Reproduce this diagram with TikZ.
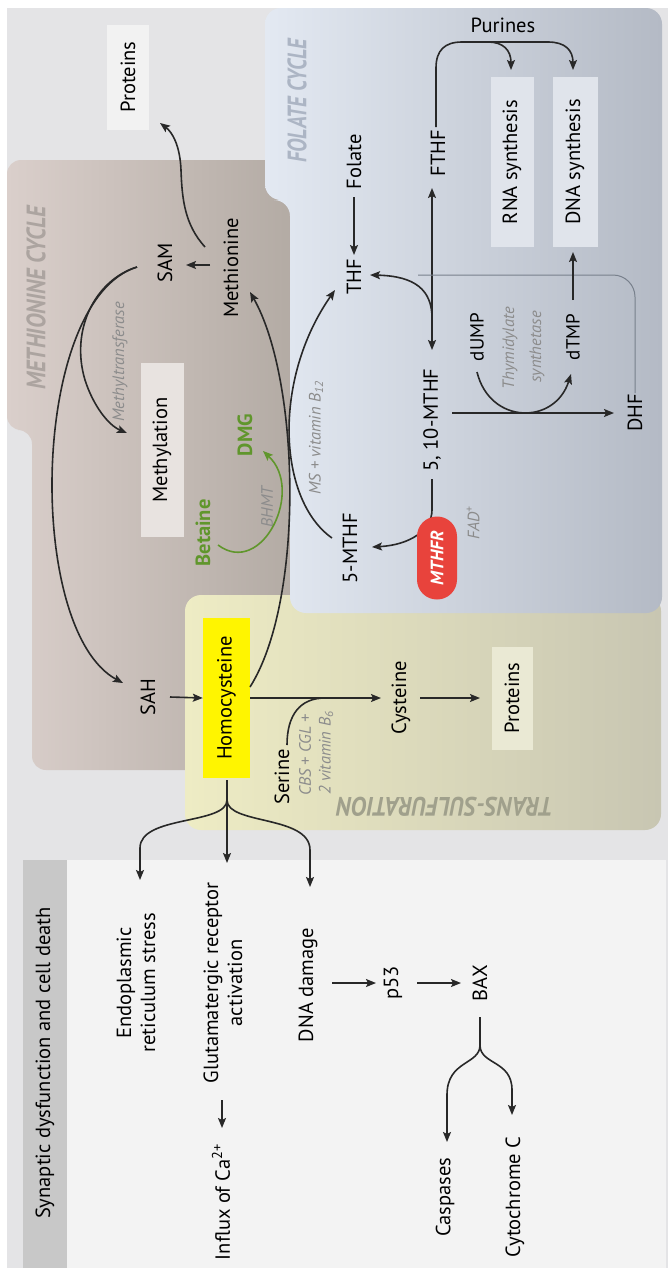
\documentclass[tikz,border=0pt]{standalone}
\usepackage{fontspec}
\setmainfont{PT Sans}
\usetikzlibrary{arrows.meta}
\definecolor{bgc}{RGB}{228,228,230}
\definecolor{metL}{RGB}{218,207,203}
\definecolor{metR}{RGB}{178,170,163}
\definecolor{folL}{RGB}{227,233,242}
\definecolor{folR}{RGB}{180,186,197}
\definecolor{ylL}{RGB}{238,236,196}
\definecolor{ylR}{RGB}{200,198,178}
\definecolor{hdc}{RGB}{200,200,200}
\definecolor{synb}{RGB}{243,243,243}
\definecolor{protc}{RGB}{242,242,242}
\definecolor{methc}{RGB}{232,227,224}
\definecolor{synthc}{RGB}{224,228,235}
\definecolor{prottc}{RGB}{234,233,212}
\definecolor{hcyc}{RGB}{255,245,0}
\definecolor{arrowc}{RGB}{40,40,40}
\definecolor{notegray}{RGB}{140,140,140}
\definecolor{grn}{RGB}{96,150,44}
\definecolor{mred}{RGB}{232,67,60}
\definecolor{metlab}{RGB}{172,164,160}
\definecolor{follab}{RGB}{172,181,196}
\definecolor{tslab}{RGB}{160,160,140}
\definecolor{glinec}{RGB}{120,128,140}
\begin{document}
\begin{tikzpicture}[x=1pt,y=-1pt,
  txt/.style={inner sep=1pt, font=\fontsize{20.5}{24}\selectfont, text=black},
  vt/.style={rotate=90},
  gnote/.style={rotate=90, inner sep=1pt, font=\fontsize{16.5}{19}\selectfont\itshape, text=notegray},
  ibox/.style={rotate=90, inner sep=0pt, font=\fontsize{20.5}{24}\selectfont},
  cyc/.style={inner sep=0pt, font=\bfseries\itshape},
  bld/.style={font=\fontsize{20.5}{24}\selectfont\bfseries},
  sml/.style={font=\fontsize{19}{24}\selectfont},
  arw/.style={draw=arrowc, line width=1.6pt, -{Stealth[length=10pt,width=8pt,inset=2pt]}},
  arwtwo/.style={draw=arrowc, line width=1.6pt, {Stealth[length=10pt,width=8pt,inset=2pt]}-{Stealth[length=10pt,width=8pt,inset=2pt]}},
  ln/.style={draw=arrowc, line width=1.6pt},
  garw/.style={draw=grn, line width=1.6pt, -{Stealth[length=10pt,width=8pt,inset=2pt]}},
  thin/.style={draw=glinec, line width=1pt}
]
\useasboundingbox (0,0) rectangle (668,1272);
% ---------- backgrounds
\fill[white] (0,0) rectangle (668,1272);
\fill[bgc] (7,8) rectangle (668,1268);
\shade[left color=metL, right color=metR, rounded corners=14pt]
  (7,160) -- (300,160) -- (300,770) -- (32,770) -- (32,430) -- (7,430) -- cycle;
\shade[left color=ylL, right color=ylR, rounded corners=16pt] (185,595) rectangle (661,830);
\shade[left color=folL, right color=folR, rounded corners=16pt]
  (265,8) -- (662,8) -- (662,613) -- (290,613) -- (290,200) -- (265,200) -- cycle;
\fill[hdc] (23,860) rectangle (67,1268);
\fill[synb] (67,860) rectangle (666,1268);

% ---------- box labels
\node[cyc, text=metlab, rotate=90] (metlabel) at (36,298) {\resizebox{183pt}{19pt}{METHIONINE CYCLE}};
\node[cyc, text=follab, rotate=90] (follabel) at (297,101) {\resizebox{123pt}{19pt}{FOLATE CYCLE}};
\node[cyc, text=tslab, rotate=180] (tslabel) at (445,807) {\resizebox{216pt}{19pt}{TRANS-SULFURATION}};

% ---------- methionine cycle nodes
\node[ibox, fill=protc, minimum width=105pt, minimum height=42pt] (protA) at (128,77) {Proteins};
\node[txt, vt] (sam) at (165,263) {SAM};
\node[txt, vt] (met) at (231,268) {Methionine};
\node[ibox, fill=methc, minimum width=174pt, minimum height=43pt] (methyl) at (162,450) {Methylation};
\node[gnote] (mtase) at (120,362) {Methyltransferase};
\node[txt, vt] (sah) at (148,697) {SAH};
\node[ibox, fill=hcyc, minimum width=160pt, minimum height=47pt] (hcy) at (226.5,698) {Homocysteine};
\node[txt, vt, text=grn, bld] (bet) at (203,533) {Betaine};
\node[txt, vt, text=grn, bld] (dmg) at (245,435) {DMG};
\node[gnote] (bhmt) at (267,507) {BHMT};
\node[gnote] (ms) at (316,438) {MS + vitamin B\textsubscript{12}};

% ---------- trans-sulfuration nodes
\node[txt, vt] (ser) at (282,777) {Serine};
\node[gnote] (cbs) at (305,755) {CBS + CGL +};
\node[gnote] (vitb) at (326,753) {2 vitamin B\textsubscript{6}};
\node[txt, vt] (cys) at (401,698) {Cysteine};
\node[ibox, fill=prottc, minimum width=103pt, minimum height=41pt] (protB) at (512,698) {Proteins};

% ---------- folate cycle nodes
\node[txt, vt] (folate) at (354,162) {Folate};
\node[txt, vt] (thf) at (354,277) {THF};
\node[txt, vt] (fthf) at (438,153) {FTHF};
\node[txt] (pur) at (503,25) {Purines};
\node[ibox, fill=synthc, minimum width=170pt, minimum height=43pt] (rna) at (512,162) {RNA synthesis};
\node[ibox, fill=synthc, minimum width=170pt, minimum height=45pt] (dna) at (575,162) {DNA synthesis};
\node[txt, vt] (mtten) at (432,420) {5, 10-MTHF};
\node[txt, vt] (mtfive) at (350,548) {5-MTHF};
\node[txt, vt, sml] (dump) at (477,337) {dUMP};
\node[txt, vt, sml] (dtmp) at (573,337) {dTMP};
\node[gnote] (thyA) at (510,348) {Thymidylate};
\node[gnote] (thyB) at (537,347) {synthetase};
\node[txt, vt] (dhf) at (635,413) {DHF};
\node[gnote] (fad) at (473,523) {FAD\textsuperscript{+}};

% ---------- synaptic box nodes
\node[txt, vt] (syn) at (45,1063) {Synaptic dysfunction and cell death};
\node[txt, vt, align=center] (er) at (136,983) {Endoplasmic\\reticulum stress};
\node[txt, vt, align=center] (glu) at (223,983) {Glutamatergic receptor\\activation};
\node[txt, vt] (ca) at (221,1202) {Influx of Ca\textsuperscript{2+}};
\node[txt, vt] (dnad) at (308,985) {DNA damage};
\node[txt, vt] (p53) at (393,983) {p53};
\node[txt, vt] (bax) at (480,983) {BAX};
\node[txt, vt] (casp) at (445,1197) {Caspases};
\node[txt, vt] (cytc) at (515,1197) {Cytochrome C};

% ---------- connectors: methionine cycle
\draw[arw] (205,247) .. controls (185,225) and (182,200) .. (181,170) .. controls (180,145) and (172,132) .. (160,123);
\draw[arw] (210,265) -- (186,265);
\draw[arw] (137,267) .. controls (95,280) and (70,330) .. (85,380) .. controls (93,405) and (108,425) .. (127,433);
\draw[arw] (137,267) .. controls (30,300) and (25,630) .. (123,683);
\draw[arw] (250,687) .. controls (305,600) and (300,380) .. (250,292);
\draw[arw] (170,697) -- (hcy.north);
\draw[garw] (218,545) .. controls (262,578) and (305,490) .. (263,451);
\draw[arw] (332,538) .. controls (278,500) and (272,380) .. (335,290);

% ---------- connectors: trans-sulfuration
\draw[arw] (hcy.south) -- (381,698);
\draw[ln] (287,745) .. controls (287,715) and (300,698) .. (325,698);
\draw[arw] (420,698) -- (480,698);

% ---------- connectors: folate cycle
\draw[arw] (354,197) -- (354,255);
\draw[arwtwo] (432,350) -- (432,188);
\draw[arw] (432,318) .. controls (432,290) and (415,276) .. (370,275);
\draw[thin, rounded corners=22pt] (635,393) -- (635,275) -- (418,275);
\draw[arw] (452,413) -- (614,413);
\draw[arw] (477,372) .. controls (490,425) and (555,425) .. (571,374);
\draw[arw] (573,300) -- (573,252);
\draw[arw] (436,127) -- (436,68) .. controls (436,50) and (445,42) .. (462,42) -- (488,42) .. controls (503,42) and (511,50) .. (511,70);
\draw[arw] (488,42) -- (548,42) .. controls (565,42) and (573,50) .. (573,70);
\draw[arw] (432,479) -- (432,510) .. controls (432,530) and (410,545) .. (372,547);
\node[rotate=90, fill=mred, rounded corners=19.9pt, minimum width=83pt, minimum height=40pt, inner sep=0pt, text=white, font=\fontsize{18}{24}\selectfont\bfseries\itshape] (mthfr) at (437,558) {MTHFR};

% ---------- connectors: synaptic dysfunction
\draw[arw] (227,780) -- (227,863);
\draw[arw] (227,800) .. controls (227,825) and (140,815) .. (140,848) -- (140,880);
\draw[arw] (227,800) .. controls (227,825) and (310,815) .. (310,850) -- (310,887);
\draw[arw] (222,1100) -- (222,1128);
\draw[arw] (332,983) -- (376,983);
\draw[arw] (417,983) -- (461,983);
\draw[ln] (480,1017) -- (480,1045);
\draw[arw] (480,1045) .. controls (480,1065) and (447,1060) .. (447,1095) -- (447,1142);
\draw[arw] (480,1045) .. controls (480,1065) and (512,1060) .. (512,1090) -- (512,1115);
\end{tikzpicture}
\end{document}
